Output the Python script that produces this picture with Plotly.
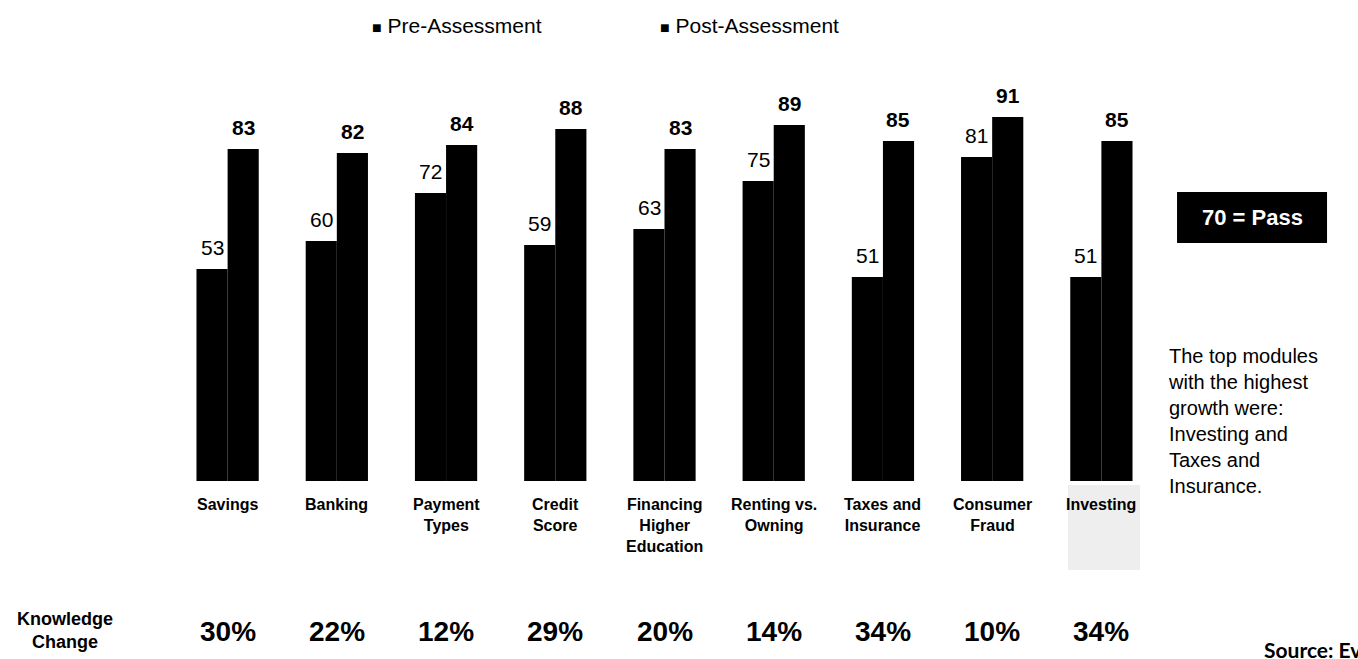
import plotly.graph_objects as go

categories = ["Savings", "Banking", "Payment<br>Types", "Credit<br>Score",
              "Financing<br>Higher<br>Education", "Renting vs.<br>Owning",
              "Taxes and<br>Insurance", "Consumer<br>Fraud", "Investing"]
pre_values = [53, 60, 72, 59, 63, 75, 51, 81, 51]
post_values = [83, 82, 84, 88, 83, 89, 85, 91, 85]
knowledge_change = ["30%", "22%", "12%", "29%", "20%", "14%", "34%", "10%", "34%"]
series_names = ["Pre-Assessment", "Post-Assessment"]

FONT = "Liberation Sans, Arial, sans-serif"

fig = go.Figure()
fig.add_trace(go.Bar(x=categories, y=pre_values, name=series_names[0],
                     marker=dict(color="black", line=dict(width=0)), showlegend=False))
fig.add_trace(go.Bar(x=categories, y=post_values, name=series_names[1],
                     marker=dict(color="black", line=dict(width=0)), showlegend=False))

ann = []
# value labels
for c, v in zip(categories, pre_values):
    ann.append(dict(x=c, y=v, xref="x", yref="y", text=str(v), showarrow=False,
                    xshift=-15.5, yshift=22, yanchor="middle",
                    font=dict(family=FONT, size=21, color="black")))
for c, v in zip(categories, post_values):
    ann.append(dict(x=c, y=v, xref="x", yref="y", text="<b>%d</b>" % v, showarrow=False,
                    xshift=15.5, yshift=22, yanchor="middle",
                    font=dict(family=FONT, size=21, color="black")))
# category labels
for c in categories:
    ann.append(dict(x=c, y=0, xref="x", yref="y", text="<b>%s</b>" % c, showarrow=False,
                    yanchor="top", yshift=-13, align="center",
                    font=dict(family=FONT, size=16, color="black")))
# knowledge change row
for c, k in zip(categories, knowledge_change):
    ann.append(dict(x=c, y=-0.375, xref="x", yref="paper", text="<b>%s</b>" % k,
                    showarrow=False, yanchor="middle",
                    font=dict(family=FONT, size=28, color="black")))
ann.append(dict(x=-0.1099, y=-0.3725, xref="paper", yref="paper",
                text="<b>Knowledge<br>Change</b>", showarrow=False, align="center",
                xanchor="center", yanchor="middle",
                font=dict(family=FONT, size=18, color="black")))
# legend
ann.append(dict(x=0.2004, y=1.14, xref="paper", yref="paper", xanchor="left", yanchor="middle",
                text="<span style='font-size:16px'>■</span> " + series_names[0],
                showarrow=False, font=dict(family=FONT, size=21, color="black")))
ann.append(dict(x=0.4934, y=1.14, xref="paper", yref="paper", xanchor="left", yanchor="middle",
                text="<span style='font-size:16px'>■</span> " + series_names[1],
                showarrow=False, font=dict(family=FONT, size=21, color="black")))
# pass box text
ann.append(dict(x=1.0977, y=0.65875, xref="paper", yref="paper", text="<b>70 = Pass</b>",
                showarrow=False, xanchor="center", yanchor="middle",
                font=dict(family=FONT, size=22, color="white")))
# note text
ann.append(dict(x=1.0102, y=0.345, xref="paper", yref="paper", xanchor="left", yanchor="top",
                align="left", showarrow=False,
                text="The top modules<br>with the highest<br>growth were:<br>Investing and<br>Taxes and<br>Insurance.",
                font=dict(family=FONT, size=20, color="black")))
# source
ann.append(dict(x=1.1078, y=-0.385, xref="paper", yref="paper", xanchor="left", yanchor="top",
                showarrow=False, text="<b>Source: EverFi</b>",
                font=dict(family="Lato, sans-serif", size=21, color="black")))

shapes = [
    dict(type="rect", xref="paper", yref="paper", x0=1.0214, x1=1.174, y0=0.595, y1=0.7225,
         fillcolor="black", line=dict(width=0)),
    dict(type="rect", xref="paper", yref="paper", x0=0.9105, x1=0.9837, y0=-0.2225, y1=-0.01,
         fillcolor="#eeeeee", line=dict(width=0), layer="below"),
]

fig.update_layout(
    width=1358, height=659,
    margin=dict(l=173, r=202, t=81, b=178),
    paper_bgcolor="white", plot_bgcolor="white",
    barmode="group", bargap=0.43, bargroupgap=0,
    xaxis=dict(showticklabels=False, showgrid=False, zeroline=False, showline=False, ticks=""),
    yaxis=dict(range=[0, 100], visible=False, showgrid=False, zeroline=False),
    annotations=ann, shapes=shapes,
    font=dict(family=FONT, color="black"),
)

fig.write_html("out.html", config={"displayModeBar": False},
               post_script="document.body.style.margin='0';")
